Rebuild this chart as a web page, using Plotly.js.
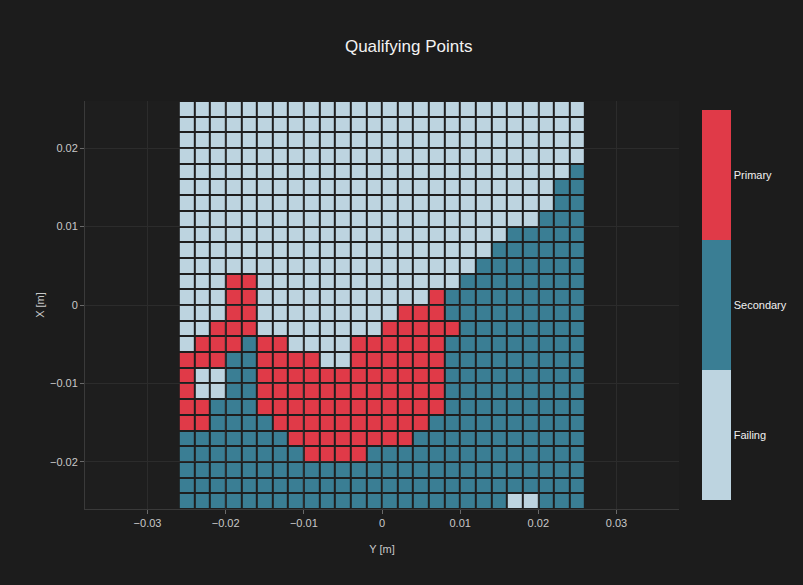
<!DOCTYPE html>
<html>
<head>
<meta charset="utf-8">
<script src="https://cdn.plot.ly/plotly-3.0.1.min.js"></script>
<style>
html,body{margin:0;padding:0;background:#1c1c1c;}
#chart{width:803px;height:585px;}
</style>
</head>
<body>
<div id="chart"></div>
<script>
// Column centres (horizontal axis "Y [m]")
const xCenters = [-0.025,-0.023,-0.021,-0.019,-0.017,-0.015,-0.013,-0.011,-0.009,-0.007,-0.005,-0.003,-0.001,
                  0.001,0.003,0.005,0.007,0.009,0.011,0.013,0.015,0.017,0.019,0.021,0.023,0.025];
// Row centres (vertical axis "X [m]"), top row first
const yCenters = [0.025,0.023,0.021,0.019,0.017,0.015,0.013,0.011,0.009,0.007,0.005,0.003,0.001,
                  -0.001,-0.003,-0.005,-0.007,-0.009,-0.011,-0.013,-0.015,-0.017,-0.019,-0.021,-0.023,-0.025];
// Status categories: 0 = Failing, 1 = Secondary, 2 = Primary
const categoryValues = [0, 1, 2];
const categoryLabels = ["Failing", "Secondary", "Primary"];
const categoryColors = ["#bdd4e0", "#3a7e94", "#e03a48"];
// Status grid, rows listed top to bottom
const statusGrid = [
 [0,0,0,0,0,0,0,0,0,0,0,0,0,0,0,0,0,0,0,0,0,0,0,0,0,0],
 [0,0,0,0,0,0,0,0,0,0,0,0,0,0,0,0,0,0,0,0,0,0,0,0,0,0],
 [0,0,0,0,0,0,0,0,0,0,0,0,0,0,0,0,0,0,0,0,0,0,0,0,0,0],
 [0,0,0,0,0,0,0,0,0,0,0,0,0,0,0,0,0,0,0,0,0,0,0,0,0,0],
 [0,0,0,0,0,0,0,0,0,0,0,0,0,0,0,0,0,0,0,0,0,0,0,0,0,1],
 [0,0,0,0,0,0,0,0,0,0,0,0,0,0,0,0,0,0,0,0,0,0,0,0,1,1],
 [0,0,0,0,0,0,0,0,0,0,0,0,0,0,0,0,0,0,0,0,0,0,0,0,1,1],
 [0,0,0,0,0,0,0,0,0,0,0,0,0,0,0,0,0,0,0,0,0,0,0,1,1,1],
 [0,0,0,0,0,0,0,0,0,0,0,0,0,0,0,0,0,0,0,0,0,1,1,1,1,1],
 [0,0,0,0,0,0,0,0,0,0,0,0,0,0,0,0,0,0,0,0,1,1,1,1,1,1],
 [0,0,0,0,0,0,0,0,0,0,0,0,0,0,0,0,0,0,0,1,1,1,1,1,1,1],
 [0,0,0,2,2,0,0,0,0,0,0,0,0,0,0,0,0,0,1,1,1,1,1,1,1,1],
 [0,0,0,2,2,0,0,0,0,0,0,0,0,0,0,0,2,1,1,1,1,1,1,1,1,1],
 [0,0,0,2,2,0,0,0,0,0,0,0,0,0,2,2,2,1,1,1,1,1,1,1,1,1],
 [0,0,2,2,2,0,0,0,0,0,0,0,0,2,2,2,2,2,1,1,1,1,1,1,1,1],
 [0,2,2,2,1,2,2,0,0,0,0,2,2,2,2,2,2,1,1,1,1,1,1,1,1,1],
 [2,2,2,1,1,2,2,2,2,0,0,2,2,2,2,2,2,1,1,1,1,1,1,1,1,1],
 [2,0,0,1,1,2,2,2,2,2,2,2,2,2,2,2,2,1,1,1,1,1,1,1,1,1],
 [2,0,0,1,1,2,2,2,2,2,2,2,2,2,2,2,2,1,1,1,1,1,1,1,1,1],
 [2,2,1,1,1,2,2,2,2,2,2,2,2,2,2,2,2,1,1,1,1,1,1,1,1,1],
 [2,2,1,1,1,1,2,2,2,2,2,2,2,2,2,2,1,1,1,1,1,1,1,1,1,1],
 [1,1,1,1,1,1,1,2,2,2,2,2,2,2,2,1,1,1,1,1,1,1,1,1,1,1],
 [1,1,1,1,1,1,1,1,2,2,2,2,1,1,1,1,1,1,1,1,1,1,1,1,1,1],
 [1,1,1,1,1,1,1,1,1,1,1,1,1,1,1,1,1,1,1,1,1,1,1,1,1,1],
 [1,1,1,1,1,1,1,1,1,1,1,1,1,1,1,1,1,1,1,1,1,1,1,1,1,1],
 [1,1,1,1,1,1,1,1,1,1,1,1,1,1,1,1,1,1,1,1,1,0,0,1,1,1]
];
const xTickVals = [-0.03,-0.02,-0.01,0,0.01,0.02,0.03];
const yTickVals = [-0.02,-0.01,0,0.01,0.02];

// discrete colour scale (3 equal bands)
const n = categoryColors.length;
const colorscale = [];
categoryColors.forEach((c, i) => {
  colorscale.push([i / n, c]);
  colorscale.push([(i + 1) / n, c]);
});

const trace = {
  type: 'heatmap',
  x: xCenters,
  y: yCenters,
  z: statusGrid,
  zmin: -0.5,
  zmax: 2.5,
  colorscale: colorscale,
  xgap: 2,
  ygap: 2,
  hoverongaps: false,
  colorbar: {
    tickvals: categoryValues,
    ticktext: categoryLabels,
    ticks: '',
    thickness: 29,
    len: 0.956,
    lenmode: 'fraction',
    y: 0.5,
    yanchor: 'middle',
    ypad: 0,
    x: 1.0354,
    xanchor: 'left',
    xpad: 2,
    outlinewidth: 0,
    tickfont: {family: 'Liberation Sans, Arial, sans-serif', size: 11, color: '#f0f0f0'}
  }
};

const axisFont = {family: 'Liberation Sans, Arial, sans-serif', size: 11, color: '#c8c8c8'};
const layout = {
  width: 803,
  height: 585,
  autosize: false,
  paper_bgcolor: '#1c1c1c',
  plot_bgcolor: '#1e1e1e',
  margin: {l: 85, r: 124, t: 101, b: 76, pad: 0},
  font: {family: 'Liberation Sans, Arial, sans-serif', color: '#e0e0e0'},
  title: {
    text: 'Qualifying Points',
    x: 0.509, xref: 'container', xanchor: 'center',
    y: 0.921, yref: 'container', yanchor: 'middle',
    font: {family: 'Liberation Sans, Arial, sans-serif', size: 17, color: '#f2f2f2'}
  },
  xaxis: {
    title: {text: 'Y [m]', font: axisFont, standoff: 17},
    range: [-0.038, 0.038],
    tickvals: xTickVals,
    tickfont: axisFont,
    ticks: 'outside', ticklen: 4, tickcolor: '#6a6a6a',
    showgrid: true, gridcolor: '#2c2c2c',
    zeroline: false,
    showline: true, linecolor: '#3a3a3a'
  },
  yaxis: {
    title: {text: 'X [m]', font: axisFont, standoff: 3},
    range: [-0.026, 0.026],
    tickvals: yTickVals,
    tickfont: axisFont,
    ticks: 'outside', ticklen: 4, tickcolor: '#6a6a6a',
    showgrid: true, gridcolor: '#2c2c2c',
    zeroline: false,
    showline: true, linecolor: '#3a3a3a'
  }
};

Plotly.newPlot('chart', [trace], layout, {displayModeBar: false, staticPlot: true});
</script>
</body>
</html>
